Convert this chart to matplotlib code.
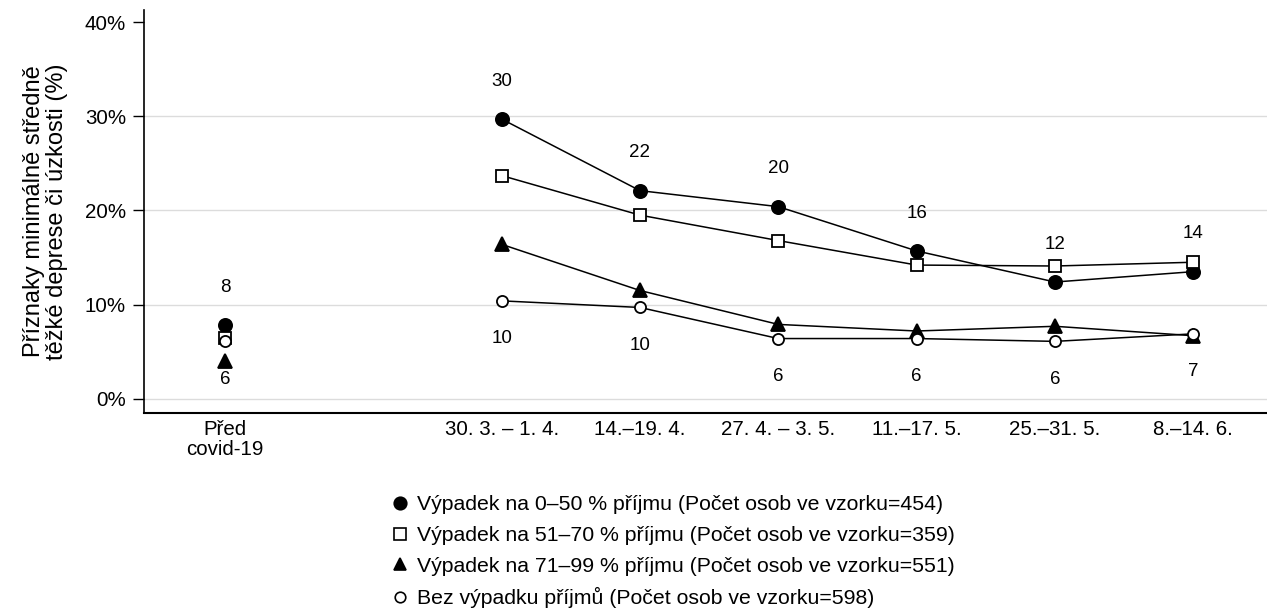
import matplotlib.pyplot as plt
from matplotlib.lines import Line2D

plt.rcParams["font.family"] = ["Liberation Sans", "DejaVu Sans"]

# Data (percent)
periods = ["Před\ncovid-19", "30. 3. – 1. 4.", "14.–19. 4.", "27. 4. – 3. 5.",
           "11.–17. 5.", "25.–31. 5.", "8.–14. 6."]
positions = [0, 2, 3, 4, 5, 6, 7]

loss_0_50 = [7.8, 29.7, 22.1, 20.4, 15.7, 12.4, 13.5]
loss_51_70 = [6.5, 23.7, 19.5, 16.8, 14.2, 14.1, 14.5]
loss_71_99 = [4.0, 16.4, 11.5, 7.9, 7.2, 7.7, 6.7]
no_loss = [6.1, 10.4, 9.7, 6.4, 6.4, 6.1, 6.9]

top_labels = ["8", "30", "22", "20", "16", "12", "14"]
bottom_labels = ["6", "10", "10", "6", "6", "6", "7"]

legend_labels = [
    "Výpadek na 0–50 % příjmu (Počet osob ve vzorku=454)",
    "Výpadek na 51–70 % příjmu (Počet osob ve vzorku=359)",
    "Výpadek na 71–99 % příjmu (Počet osob ve vzorku=551)",
    "Bez výpadku příjmů (Počet osob ve vzorku=598)",
]

series = [
    (loss_0_50, dict(marker="o", markerfacecolor="black", markersize=9.5)),
    (loss_51_70, dict(marker="s", markerfacecolor="white", markersize=8.5)),
    (loss_71_99, dict(marker="^", markerfacecolor="black", markersize=9.5)),
    (no_loss, dict(marker="o", markerfacecolor="white", markersize=8)),
]

fig = plt.figure(figsize=(12.67, 6.1), dpi=100)
ax = fig.add_axes([0.1137, 0.323, 0.886, 0.661])

for vals, style in series:
    # pre-covid point stands alone, the rest is connected
    ax.plot(positions[:1], vals[:1], linestyle="none", color="black",
            markeredgecolor="black", markeredgewidth=1.3, **style)
    ax.plot(positions[1:], vals[1:], color="black", linewidth=1.1,
            markeredgecolor="black", markeredgewidth=1.3, **style)

for x, v, lab in zip(positions, loss_0_50, top_labels):
    ax.text(x, v + 4, lab, ha="center", va="center", fontsize=13.5)
for x, v, lab in zip(positions, no_loss, bottom_labels):
    ax.text(x, v - 4, lab, ha="center", va="center", fontsize=13.5)

for g in [0, 10, 20, 30]:
    ax.axhline(g, color="#dcdcdc", linewidth=1, zorder=0)

ax.set_xlim(-0.585, 7.53)
ax.set_ylim(-1.5, 41.3)
ax.set_yticks([0, 10, 20, 30, 40])
ax.set_yticklabels(["0%", "10%", "20%", "30%", "40%"], fontsize=14.8)
ax.set_xticks(positions)
ax.set_xticklabels(periods, fontsize=14.8, linespacing=1.05)
ax.tick_params(axis="x", length=0, pad=5)
ax.tick_params(axis="y", length=8, width=1, pad=5)
ax.set_ylabel("Příznaky minimálně středně\ntěžké deprese či úzkosti (%)",
              fontsize=17, linespacing=1.05, labelpad=12)

for s in ["top", "right"]:
    ax.spines[s].set_visible(False)
ax.spines["left"].set_linewidth(1.2)
ax.spines["bottom"].set_linewidth(1.5)

handles = []
for vals, style in series:
    st = dict(style)
    st["markersize"] = st["markersize"] * 0.95
    handles.append(Line2D([], [], linestyle="none", color="black",
                          markeredgecolor="black", markeredgewidth=1.2, **st))
fig.legend(handles, legend_labels, loc="upper left",
           bbox_to_anchor=(0.307, 0.188), frameon=False, fontsize=15.3,
           handlelength=1.0, handletextpad=0.33, labelspacing=0.55,
           borderpad=0, borderaxespad=0)

fig.savefig("out.png", dpi=100)
